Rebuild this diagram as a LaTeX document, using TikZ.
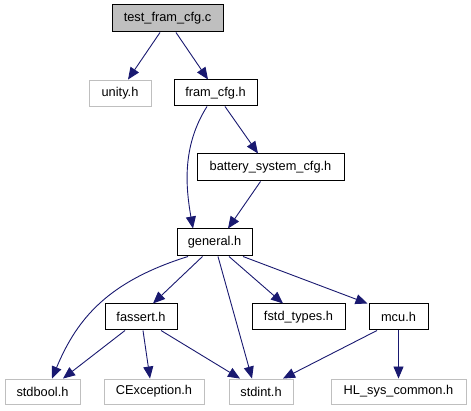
\documentclass[tikz,border=0pt]{standalone}
\usepackage{fontspec}
\setmainfont{Liberation Sans}
\usetikzlibrary{arrows.meta,calc}
\definecolor{edgeblue}{HTML}{191970}
\definecolor{boxgray}{HTML}{BFBFBF}
\begin{document}
\begin{tikzpicture}[x=1pt,y=-1pt,
  box/.style={draw=black,line width=1pt,rectangle,inner sep=0pt,font=\fontsize{12.8}{14}\selectfont,anchor=center},
  gbox/.style={box,draw=boxgray,line width=0.9pt},
  root/.style={box,fill=boxgray},
  edge/.style={draw=edgeblue,line width=0.9pt,-{Triangle[length=12pt,width=10pt]}}]
\useasboundingbox (0,0) rectangle (471,411);
\node[root,minimum width=111pt,minimum height=27pt] (test) at (167.5,18.5) {test\_fram\_cfg.c};
\node[gbox,minimum width=62pt,minimum height=26pt] (unity) at (120,93) {unity.h};
\node[box,minimum width=83pt,minimum height=26pt] (fram) at (215.5,93) {fram\_cfg.h};
\node[box,minimum width=147pt,minimum height=27pt] (batt) at (270.5,167.5) {battery\_system\_cfg.h};
\node[box,minimum width=75pt,minimum height=27pt] (gen) at (214.5,242.5) {general.h};
\node[box,minimum width=72pt,minimum height=26pt] (fassert) at (141,317) {fassert.h};
\node[box,minimum width=93pt,minimum height=26pt] (fstd) at (298.5,317) {fstd\_types.h};
\node[box,minimum width=59pt,minimum height=26pt] (mcu) at (398.5,317) {mcu.h};
\node[gbox,minimum width=75pt,minimum height=25pt] (stdbool) at (42.5,391.5) {stdbool.h};
\node[gbox,minimum width=100pt,minimum height=25pt] (cexc) at (154,391.5) {CException.h};
\node[gbox,minimum width=64pt,minimum height=25pt] (stdint) at (261,391.5) {stdint.h};
\node[gbox,minimum width=135pt,minimum height=25pt] (hl) at (398.5,391.5) {HL\_sys\_common.h};

\draw[edge] ([xshift=-7.5pt]test.south) -- ([xshift=8pt]unity.north);
\draw[edge] ([xshift=8.5pt]test.south) -- ([xshift=-7.5pt]fram.north);
\draw[edge] ([xshift=-8.5pt]fram.south) .. controls +(-24,38) and +(-8,-45) .. ([xshift=-21.5pt]gen.north);
\draw[edge] ([xshift=9.5pt]fram.south) -- ([xshift=-12.5pt]batt.north);
\draw[edge] ([xshift=-10pt]batt.south) -- ([xshift=13.5pt]gen.north);
\draw[edge] ([xshift=-26.5pt]gen.south) .. controls +(-80,25) and +(25,-60) .. ([xshift=9.5pt]stdbool.north);
\draw[edge] ([xshift=-12pt]gen.south) -- ([xshift=12pt]fassert.north);
\draw[edge] ([xshift=3.5pt]gen.south) -- ([xshift=-9pt]stdint.north);
\draw[edge] ([xshift=14.5pt]gen.south) -- ([xshift=-15.5pt]fstd.north);
\draw[edge] ([xshift=28.5pt]gen.south) -- ([xshift=-1pt]mcu.north west);
\draw[edge] ([xshift=-16pt]fassert.south) -- ([xshift=20.5pt]stdbool.north);
\draw[edge] ([xshift=2pt]fassert.south) -- ([xshift=-4pt]cexc.north);
\draw[edge] ([xshift=20pt]fassert.south) -- ([xshift=-21pt]stdint.north);
\draw[edge] ([xshift=-21.5pt]mcu.south) -- ([xshift=22pt]stdint.north);
\draw[edge] (mcu.south) -- (hl.north);
\end{tikzpicture}
\end{document}
